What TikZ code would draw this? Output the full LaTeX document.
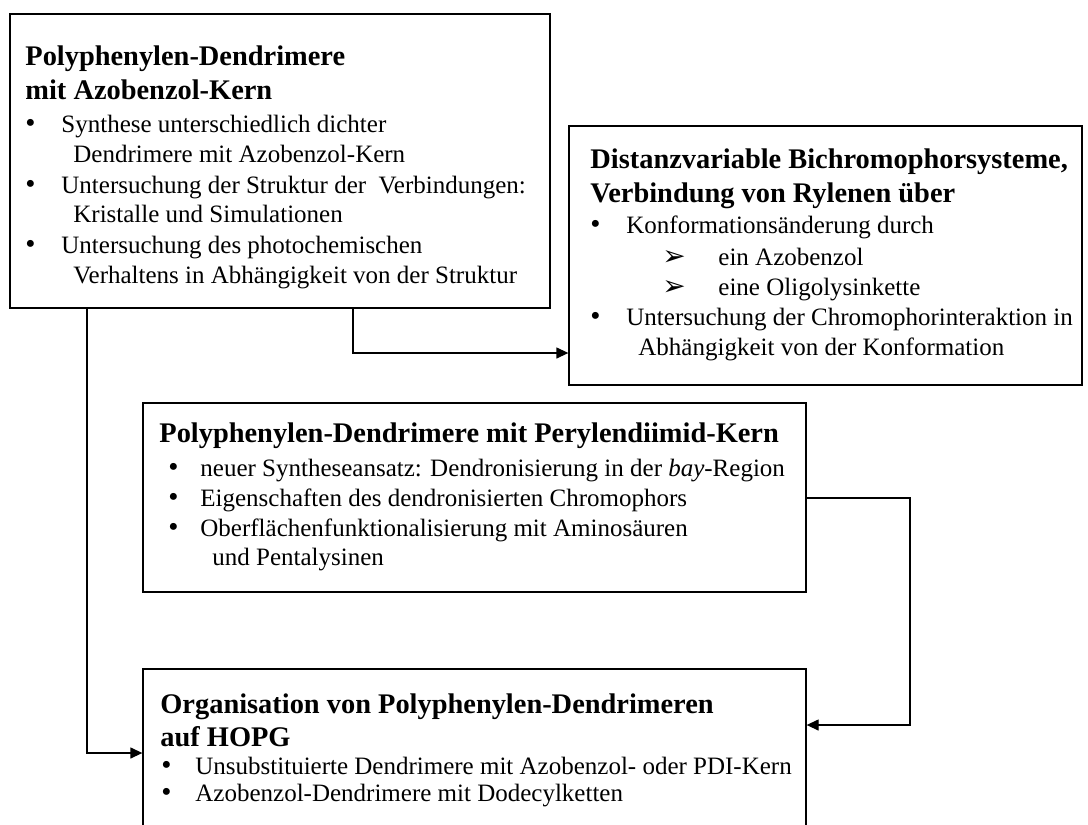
\documentclass[tikz,border=0pt]{standalone}
\usepackage{fontspec}
\setmainfont{Liberation Serif}
\newfontfamily\dingfont{DejaVu Sans}
\usetikzlibrary{arrows.meta,fit}

\newcommand\titlefont{\fontsize{14.2}{17}\selectfont\bfseries}
\newcommand\bodyfont{\fontsize{12.5}{15}\selectfont}
\newcommand\bulletmark{{\fontsize{14.5}{15}\selectfont •}}
\newcommand\arrowbullet{{\dingfont\fontsize{14}{15}\selectfont ➢}}

\begin{document}
\begin{tikzpicture}[x=0.5pt,y=-0.5pt,
  box/.style={draw, line width=0.65pt, inner sep=0pt},
  ttl/.style={anchor=base west, inner sep=0pt, font=\titlefont},
  bod/.style={anchor=base west, inner sep=0pt, font=\bodyfont},
  con/.style={line width=0.65pt},
  arr/.style={con, -{Triangle[length=6pt,width=5.5pt]}}]

\useasboundingbox (0,0) rectangle (1088,825);
\clip (0,0) rectangle (1088,825);

% boxes
\node[box, fit={(10,14) (550,308)}] (b1) {};
\node[box, fit={(569,126) (1082,385)}] (b2) {};
\node[box, fit={(143,403) (806,592)}] (b3) {};
\node[box, fit={(143,669) (806,850)}] (b4) {};

% Azobenzol-Kern
\node[ttl] (t1a) at (25,65) {Polyphenylen-Dendrimere};
\node[ttl] (t1b) at (25,99) {mit Azobenzol-Kern};
\node[bod] (p1a) at (25,132) {\bulletmark};
\node[bod] (l1a) at (61,132) {Synthese unterschiedlich dichter};
\node[bod] (l1b) at (73,162) {Dendrimere mit Azobenzol-Kern};
\node[bod] (p1b) at (25,193) {\bulletmark};
\node[bod] (l1c) at (61,193) {Untersuchung der Struktur der~ Verbindungen:};
\node[bod] (l1d) at (73,222) {Kristalle und Simulationen};
\node[bod] (p1c) at (25,253) {\bulletmark};
\node[bod] (l1e) at (61,253) {Untersuchung des photochemischen};
\node[bod] (l1f) at (73,283) {Verhaltens in Abhängigkeit von der Struktur};

% Bichromophorsysteme
\node[ttl] (t2a) at (590,168) {Distanzvariable Bichromophorsysteme,};
\node[ttl] (t2b) at (590,202) {Verbindung von Rylenen über};
\node[bod] (p2a) at (590,233) {\bulletmark};
\node[bod] (l2a) at (626,233) {Konformationsänderung durch};
\node[bod] (q2a) at (662,265) {\arrowbullet};
\node[bod] (l2b) at (718,265) {ein Azobenzol};
\node[bod] (q2b) at (662,295) {\arrowbullet};
\node[bod] (l2c) at (718,295) {eine Oligolysinkette};
\node[bod] (p2b) at (590,325) {\bulletmark};
\node[bod] (l2d) at (626,325) {Untersuchung der Chromophorinteraktion in};
\node[bod] (l2e) at (638,355) {Abhängigkeit von der Konformation};

% Perylendiimid-Kern
\node[ttl] (t3a) at (159,442) {Polyphenylen-Dendrimere mit Perylendiimid-Kern};
\node[bod] (p3a) at (168,476) {\bulletmark};
\node[bod] (l3a) at (200,476) {neuer Syntheseansatz: Dendronisierung in der \textit{bay}-Region};
\node[bod] (p3b) at (168,506) {\bulletmark};
\node[bod] (l3b) at (200,506) {Eigenschaften des dendronisierten Chromophors};
\node[bod] (p3c) at (168,536) {\bulletmark};
\node[bod] (l3c) at (200,536) {Oberflächenfunktionalisierung mit Aminosäuren};
\node[bod] (l3d) at (212,565) {und Pentalysinen};

% HOPG
\node[ttl] (t4a) at (160,713) {Organisation von Polyphenylen-Dendrimeren};
\node[ttl] (t4b) at (160,746) {auf HOPG};
\node[bod] (p4a) at (161,774) {\bulletmark};
\node[bod] (l4a) at (195,774) {Unsubstituierte Dendrimere mit Azobenzol- oder PDI-Kern};
\node[bod] (p4b) at (161,801) {\bulletmark};
\node[bod] (l4b) at (195,801) {Azobenzol-Dendrimere mit Dodecylketten};

% connectors
\coordinate (k1) at (87,753);
\coordinate (k2) at (353,353);
\coordinate (k3) at (910,498);
\coordinate (k4) at (910,725);
\draw[arr] (b1.south -| k1) |- (b4.west |- k1);
\draw[arr] (b1.south -| k2) |- (b2.west |- k2);
\draw[arr] (b3.east |- k3) -| (k4) -- (b4.east |- k4);
\end{tikzpicture}
\end{document}
